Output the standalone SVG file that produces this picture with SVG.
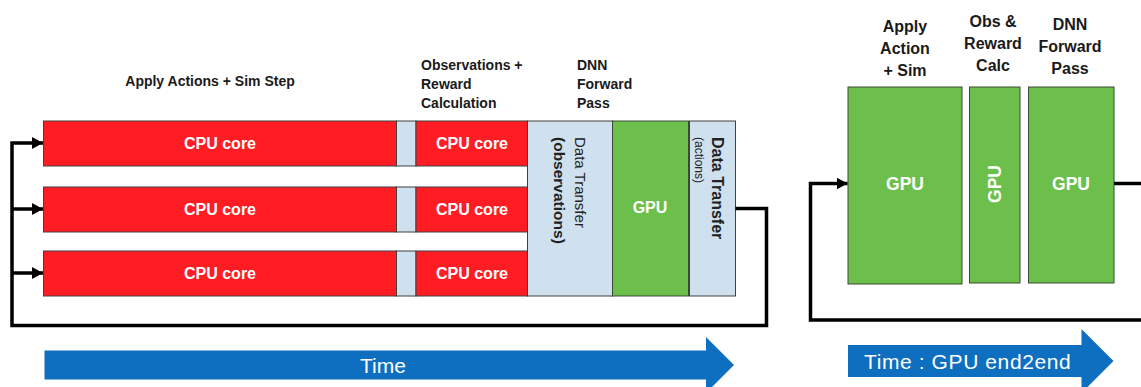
<svg xmlns="http://www.w3.org/2000/svg" width="1141" height="387" viewBox="0 0 1141 387">
<defs>
<style>
.cpu{fill:#ff1c23;stroke:#404040;stroke-width:1}
.lb{fill:#cfe0ef;stroke:#404040;stroke-width:1}
.gpu{fill:#6cbf4b;stroke:#3c4a35;stroke-width:1}
.wt{fill:#fff;font-family:"Liberation Sans",Arial,sans-serif;font-weight:bold;text-anchor:middle;dominant-baseline:central}
.lbl{fill:#1a1a1a;font-family:"Liberation Sans",Arial,sans-serif;font-weight:bold;font-size:14px}
.rl{fill:#1a1a1a;font-family:"Liberation Sans",Arial,sans-serif;font-weight:bold;font-size:16px;text-anchor:middle}
.dt{fill:#222;font-family:"Liberation Sans",Arial,sans-serif}
.conn{fill:none;stroke:#000;stroke-width:3.5}
.time{fill:#0e6fc1}
.tt{fill:#fff;font-family:"Liberation Sans",Arial,sans-serif;font-size:21px;dominant-baseline:central}
</style>
<marker id="ah" markerUnits="userSpaceOnUse" markerWidth="12" markerHeight="12" refX="11" refY="6" orient="auto">
<path d="M0,0 L11,6 L0,12 z" fill="#000"/>
</marker>
</defs>

<g id="labels">
<text class="lbl" x="210" y="86" text-anchor="middle">Apply Actions + Sim Step</text>
<text class="lbl" x="421" y="70">Observations +</text>
<text class="lbl" x="421" y="89">Reward</text>
<text class="lbl" x="421" y="108">Calculation</text>
<text class="lbl" x="577" y="70">DNN</text>
<text class="lbl" x="577" y="89">Forward</text>
<text class="lbl" x="577" y="108">Pass</text>
<text class="rl" x="905" y="32">Apply</text>
<text class="rl" x="905" y="54">Action</text>
<text class="rl" x="905" y="76">+ Sim</text>
<text class="rl" x="993" y="27">Obs &amp;</text>
<text class="rl" x="993" y="49">Reward</text>
<text class="rl" x="993" y="71">Calc</text>
<text class="rl" x="1070" y="30">DNN</text>
<text class="rl" x="1070" y="52">Forward</text>
<text class="rl" x="1070" y="74">Pass</text>
</g>

<g id="cpu-row1">
<rect class="cpu" x="43.5" y="121" width="353" height="45"/>
<rect class="lb" x="396.5" y="121" width="19.5" height="45"/>
<rect class="cpu" x="416" y="121" width="111.5" height="45"/>
<text class="wt" x="220" y="143" font-size="16">CPU core</text>
<text class="wt" x="472" y="143" font-size="16">CPU core</text>
</g>
<g id="cpu-row2">
<rect class="cpu" x="43.5" y="187" width="353" height="45"/>
<rect class="lb" x="396.5" y="187" width="19.5" height="45"/>
<rect class="cpu" x="416" y="187" width="111.5" height="45"/>
<text class="wt" x="220" y="209" font-size="16">CPU core</text>
<text class="wt" x="472" y="209" font-size="16">CPU core</text>
</g>
<g id="cpu-row3">
<rect class="cpu" x="43.5" y="251" width="353" height="45"/>
<rect class="lb" x="396.5" y="251" width="19.5" height="45"/>
<rect class="cpu" x="416" y="251" width="111.5" height="45"/>
<text class="wt" x="220" y="273" font-size="16">CPU core</text>
<text class="wt" x="472" y="273" font-size="16">CPU core</text>
</g>

<g id="transfer-obs">
<rect class="lb" x="527.5" y="121" width="85" height="175"/>
<text class="dt" transform="translate(575,137) rotate(90)" font-size="15">Data Transfer</text>
<text class="dt" transform="translate(554,137) rotate(90)" font-size="15.5" font-weight="bold">(observations)</text>
</g>

<g id="gpu-cpu">
<rect class="gpu" x="612.5" y="121" width="76" height="175"/>
<text class="wt" x="650" y="207" font-size="16">GPU</text>
</g>

<g id="transfer-act">
<rect class="lb" x="689.5" y="121" width="46" height="175"/>
<text class="dt" transform="translate(712,137) rotate(90)" font-size="16" font-weight="bold">Data Transfer</text>
<text class="dt" transform="translate(695,137) rotate(90)" font-size="12">(actions)</text>
</g>

<g id="gpu-sim">
<rect class="gpu" x="848" y="87" width="114" height="197"/>
<text class="wt" x="905" y="184" font-size="17.5">GPU</text>
</g>
<g id="gpu-obs">
<rect class="gpu" x="969.5" y="87" width="50.5" height="196"/>
<text class="wt" transform="translate(995,184) rotate(-90)" font-size="17.5">GPU</text>
</g>
<g id="gpu-dnn">
<rect class="gpu" x="1028.5" y="87" width="85.5" height="196"/>
<text class="wt" x="1071" y="184" font-size="17.5">GPU</text>
</g>

<g id="connectors">
<path class="conn" d="M735.5,208.5 H766.5 V325.5 H12 V143 H43" marker-end="url(#ah)"/>
<path class="conn" d="M12,209 H43" marker-end="url(#ah)"/>
<path class="conn" d="M12,273 H43" marker-end="url(#ah)"/>
<path class="conn" d="M1141,320 H810.5 V183.5 H847.5" marker-end="url(#ah)"/>
<path class="conn" d="M1114,183.5 H1141"/>
</g>

<g id="time-cpu">
<path class="time" d="M44.5,350.5 H706 V337 L734,365 L706,393 V379.5 H44.5 z"/>
<text class="tt" x="383" y="365" text-anchor="middle">Time</text>
</g>
<g id="time-gpu">
<path class="time" d="M848,345 H1081.5 V329 L1113.5,361 L1081.5,393 V377 H848 z"/>
<text class="tt" x="864" y="361" font-size="22" letter-spacing="0.6">Time : GPU end2end</text>
</g>
</svg>
